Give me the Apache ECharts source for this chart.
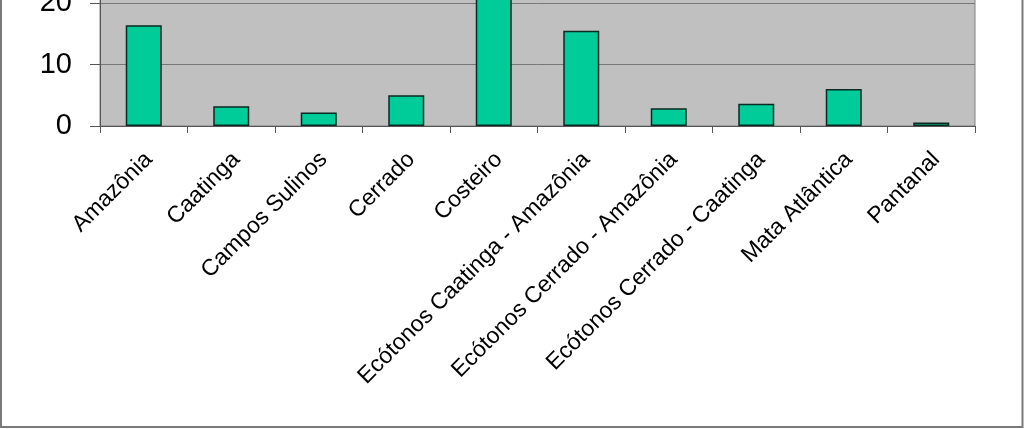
<!DOCTYPE html>
<html><head><meta charset="utf-8">
<script src="https://cdn.jsdelivr.net/npm/echarts@6/dist/echarts.min.js"></script>
<style>html,body{margin:0;padding:0;background:#fff}#c{width:1024px;height:429px}</style>
</head><body><div id="c"></div>
<script>
const categories = ["Amazônia","Caatinga","Campos Sulinos","Cerrado","Costeiro","Ecótonos Caatinga - Amazônia","Ecótonos Cerrado - Amazônia","Ecótonos Cerrado - Caatinga","Mata Atlântica","Pantanal"];
const values = [16.4, 3.2, 2.2, 5.0, 26, 15.5, 2.9, 3.6, 6.0, 0.55];
const yMin = 0, yMax = 30, yInterval = 10;

const chart = echarts.init(document.getElementById('c'), null, {renderer:'canvas'});
chart.setOption({
  animation:false,
  grid:{left:100, right:49, top:-58.5, bottom:303, containLabel:false, outerBoundsMode:'none', show:true, backgroundColor:'#C0C0C0', borderColor:'#808080', borderWidth:1},
  xAxis:{type:'category', data:categories, boundaryGap:true,
    axisLine:{lineStyle:{color:'#555', width:1}},
    axisTick:{show:true, length:7, alignWithLabel:false, lineStyle:{color:'#555'}},
    axisLabel:{rotate:45, interval:0, margin:25, fontFamily:'Liberation Sans, Arial', fontSize:23, color:'#000',
      formatter: v => '{a|' + v + '}',
      rich:{a:{fontFamily:'Liberation Sans, Arial', fontSize:23, color:'#000', padding:[14,0,0,0]}}}},
  yAxis:{type:'value', min:yMin, max:yMax, interval:yInterval,
    axisLine:{show:true, lineStyle:{color:'#555', width:1}},
    axisTick:{show:true, length:10, lineStyle:{color:'#555'}},
    splitLine:{lineStyle:{color:'#777', width:1}},
    axisLabel:{margin:28, fontFamily:'Liberation Sans, Arial', fontSize:29, color:'#000'}},
  series:[{type:'bar', data:values, barWidth:36,
    itemStyle:{color:'#00CC99', borderColor:'#0a2a22', borderWidth:1.5}}],
  graphic:[{type:'rect', z:100, shape:{x:1, y:-10, width:1021.5, height:437}, style:{fill:'none', stroke:'#7a7a7a', lineWidth:2}}]
});
</script></body></html>
